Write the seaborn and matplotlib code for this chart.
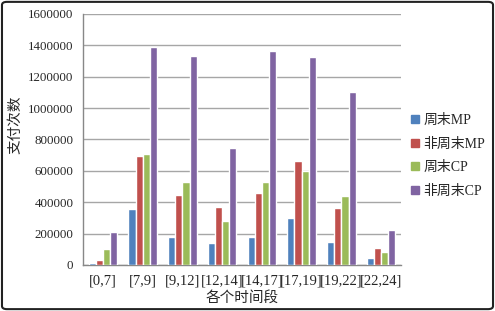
import numpy as np
import pandas as pd
import seaborn as sns
import matplotlib.pyplot as plt
from matplotlib.patches import FancyBboxPatch
from matplotlib.lines import Line2D
from matplotlib.ticker import FuncFormatter

periods = ['[0,7]', '[7,9]', '[9,12]', '[12,14]', '[14,17]', '[17,19]', '[19,22]', '[22,24]']
series = ['周末MP', '非周末MP', '周末CP', '非周末CP']
weekend_mp = [12000, 355000, 176000, 138000, 176000, 298000, 145000, 43000]
weekday_mp = [30000, 695000, 444000, 372000, 457000, 661000, 365000, 110000]
weekend_cp = [100000, 708000, 527000, 280000, 531000, 597000, 442000, 81000]
weekday_cp = [212000, 1387000, 1332000, 744000, 1366000, 1324000, 1105000, 223000]
colors = ['#4F81BD', '#C0504D', '#9BBB59', '#8064A2']

df = pd.DataFrame({
    '时间段': periods * 4,
    '类型': np.repeat(series, len(periods)),
    '次数': weekend_mp + weekday_mp + weekend_cp + weekday_cp,
})

sns.set_style('white')
plt.rcParams['font.family'] = ['Liberation Serif', 'Noto Sans CJK SC']

fig = plt.figure(figsize=(4.95, 3.11), dpi=100)
ax = fig.add_axes([0.168, 0.148, 0.642, 0.807])

sns.barplot(data=df, x='时间段', y='次数', hue='类型', palette=colors,
            width=0.72, gap=0.0, saturation=1, ax=ax, zorder=3, legend=False)

ax.set_ylim(0, 1600000)
ax.set_yticks(np.arange(0, 1600001, 200000))
ax.yaxis.set_major_formatter(FuncFormatter(lambda v, p: f'{int(v)}'))
ax.yaxis.grid(True, color='#A6A6A6', linewidth=1.0, zorder=0)
ax.set_xlim(-0.5, 7.5)
ax.set_xticks(np.arange(-0.5, 8, 1), minor=True)
ax.tick_params(axis='x', which='major', length=0, pad=7, labelsize=10.5)
ax.tick_params(axis='x', which='minor', length=4, width=1, color='#888888', direction='out')
ax.tick_params(axis='y', length=4, width=1, color='#888888', direction='out', pad=3, labelsize=9.3)
for s in ['top', 'right']:
    ax.spines[s].set_visible(False)
for s in ['left', 'bottom']:
    ax.spines[s].set_color('#888888')
    ax.spines[s].set_linewidth(1.0)

ax.set_xlabel('各个时间段', fontsize=10.5, labelpad=2)
ax.set_ylabel('支付次数', fontsize=10.5)
ax.yaxis.set_label_coords(-0.19, 0.56)

handles = [Line2D([], [], marker='s', linestyle='none', markersize=5.5,
                  markerfacecolor=c, markeredgecolor=c) for c in colors]
ax.legend(handles, series, loc='center left', bbox_to_anchor=(1.0, 0.435), frameon=False,
          handlelength=0.6, handletextpad=0.3, labelspacing=0.75, fontsize=10,
          borderaxespad=0.3)

border = FancyBboxPatch((0.004, 0.006), 0.992, 0.988, boxstyle='round,pad=0,rounding_size=0.01',
                        transform=fig.transFigure, fill=False, edgecolor='#222222', linewidth=1.5)
fig.patches.append(border)

fig.savefig('out.png', dpi=100)
